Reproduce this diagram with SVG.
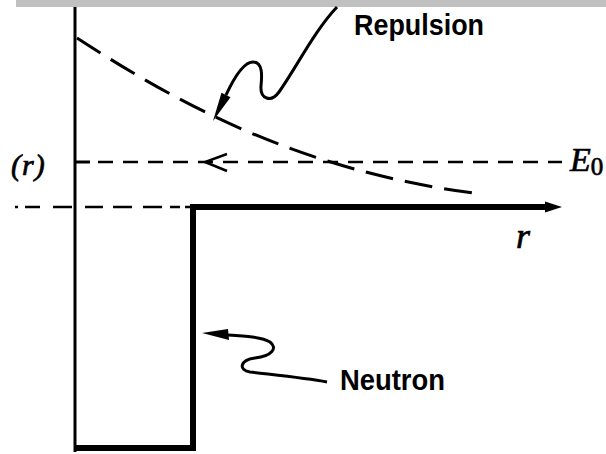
<svg xmlns="http://www.w3.org/2000/svg" width="606" height="454" viewBox="0 0 606 454">
<style>
.ln{stroke:#000;fill:none}
.sans{font-family:"Liberation Sans",Arial,sans-serif;font-weight:bold;font-size:30px;fill:#000}
.serif{font-family:"Liberation Serif","Times New Roman",serif;font-style:italic;fill:#000;stroke:#000;stroke-width:0.7px}
</style>
<rect width="606" height="454" fill="#fff"/>
<rect x="16" y="0" width="590" height="7" fill="#c0c0c0"/>
<g id="axes">
<line class="ln" x1="75" y1="7" x2="75" y2="452" stroke-width="3"/>
<path class="ln" d="M15,207H18M25,207H40M53,207H72M85,207H103M113,207H132M143,207H162M170,207H180M185,207H191" stroke-width="2.5"/>
</g>
<g id="well">
<path class="ln" d="M75,448H193V207H549" stroke-width="6"/>
<polygon points="545,201.5 562,207 545,212.5" fill="#000"/>
</g>
<g id="energy">
<line class="ln" x1="75" y1="162" x2="90" y2="162" stroke-width="3"/>
<line class="ln" x1="98" y1="162" x2="562" y2="162" stroke-width="2.5" stroke-dasharray="15 10"/>
<polyline class="ln" points="227,154 205,162 227,171" stroke-width="2.5"/>
</g>
<g id="repulsion-curve">
<path class="ln" d="M77,38 C180,105 300,170 473,193" stroke-width="3" stroke-dasharray="28 12"/>
</g>
<g id="connectors">
<path class="ln" d="M226,95 C233,80 243,62 253,62 C263,62 262,76 261,86 C260,99 271,103 279,92 C296,68 315,30 337,7" stroke-width="3"/>
<polygon points="213,121 221.5,92.7 230.5,97.3" fill="#000"/>
<path class="ln" d="M228,335 C245,336 262,337 270,342 C278,348 272,356 255,358 C240,360 238,370 250,372 C275,375 305,378 327,382" stroke-width="3"/>
<polygon points="202,333 228,329 229,340" fill="#000"/>
</g>
<g id="labels">
<text class="sans" x="354" y="35" textLength="130" lengthAdjust="spacingAndGlyphs">Repulsion</text>
<text class="sans" x="340" y="390" textLength="105" lengthAdjust="spacingAndGlyphs">Neutron</text>
<text class="serif" x="11" y="175" font-size="30" letter-spacing="1">(r)</text>
<text class="serif" x="570" y="171" font-size="34">E<tspan font-size="25" font-style="normal" dy="4">0</tspan></text>
<text class="serif" x="516" y="248" font-size="36">r</text>
</g>
</svg>
